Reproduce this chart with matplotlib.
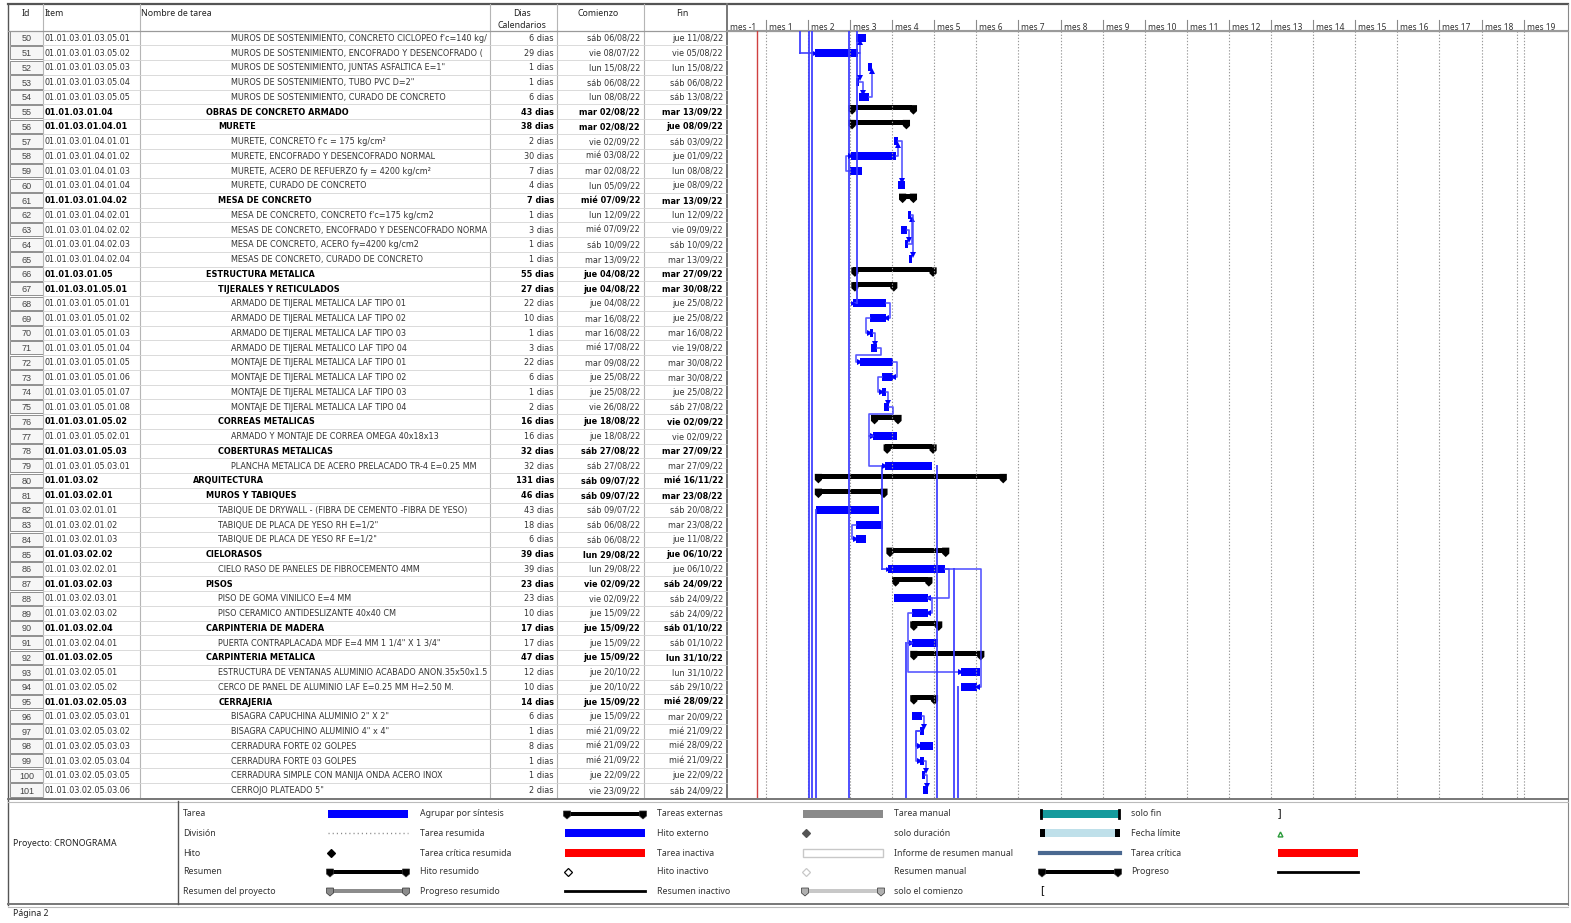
import matplotlib
matplotlib.use('Agg')
import matplotlib.pyplot as plt
from matplotlib import font_manager
from matplotlib.patches import Rectangle, Polygon
from datetime import date, datetime, timedelta

# ---------------- datos del cronograma (página 2) ----------------
ids = list(range(50, 102))
items = [
    '01.01.03.01.03.05.01', '01.01.03.01.03.05.02', '01.01.03.01.03.05.03',
    '01.01.03.01.03.05.04', '01.01.03.01.03.05.05',
    '01.01.03.01.04', '01.01.03.01.04.01', '01.01.03.01.04.01.01',
    '01.01.03.01.04.01.02', '01.01.03.01.04.01.03', '01.01.03.01.04.01.04',
    '01.01.03.01.04.02', '01.01.03.01.04.02.01', '01.01.03.01.04.02.02',
    '01.01.03.01.04.02.03', '01.01.03.01.04.02.04',
    '01.01.03.01.05', '01.01.03.01.05.01', '01.01.03.01.05.01.01',
    '01.01.03.01.05.01.02', '01.01.03.01.05.01.03', '01.01.03.01.05.01.04',
    '01.01.03.01.05.01.05', '01.01.03.01.05.01.06', '01.01.03.01.05.01.07',
    '01.01.03.01.05.01.08', '01.01.03.01.05.02', '01.01.03.01.05.02.01',
    '01.01.03.01.05.03', '01.01.03.01.05.03.01',
    '01.01.03.02', '01.01.03.02.01', '01.01.03.02.01.01', '01.01.03.02.01.02',
    '01.01.03.02.01.03', '01.01.03.02.02', '01.01.03.02.02.01',
    '01.01.03.02.03', '01.01.03.02.03.01', '01.01.03.02.03.02',
    '01.01.03.02.04', '01.01.03.02.04.01', '01.01.03.02.05',
    '01.01.03.02.05.01', '01.01.03.02.05.02', '01.01.03.02.05.03',
    '01.01.03.02.05.03.01', '01.01.03.02.05.03.02', '01.01.03.02.05.03.03',
    '01.01.03.02.05.03.04', '01.01.03.02.05.03.05', '01.01.03.02.05.03.06',
]
nombres = [
    "MUROS DE SOSTENIMIENTO, CONCRETO CICLOPEO f'c=140 kg/cm2",
    "MUROS DE SOSTENIMIENTO, ENCOFRADO Y DESENCOFRADO (NORMAL)",
    'MUROS DE SOSTENIMIENTO, JUNTAS ASFALTICA E=1"',
    'MUROS DE SOSTENIMIENTO, TUBO PVC D=2"',
    'MUROS DE SOSTENIMIENTO, CURADO DE CONCRETO',
    'OBRAS DE CONCRETO ARMADO',
    'MURETE',
    "MURETE, CONCRETO f'c = 175 kg/cm²",
    'MURETE, ENCOFRADO Y DESENCOFRADO NORMAL',
    'MURETE, ACERO DE REFUERZO fy = 4200 kg/cm²',
    'MURETE, CURADO DE CONCRETO',
    'MESA DE CONCRETO',
    "MESA DE CONCRETO, CONCRETO f'c=175 kg/cm2",
    'MESAS DE CONCRETO, ENCOFRADO Y DESENCOFRADO NORMAL',
    'MESA DE CONCRETO, ACERO fy=4200 kg/cm2',
    'MESAS DE CONCRETO, CURADO DE CONCRETO',
    'ESTRUCTURA METALICA',
    'TIJERALES Y RETICULADOS',
    'ARMADO DE TIJERAL METALICA LAF TIPO 01',
    'ARMADO DE TIJERAL METALICA LAF TIPO 02',
    'ARMADO DE TIJERAL METALICA LAF TIPO 03',
    'ARMADO DE TIJERAL METALICO LAF TIPO 04',
    'MONTAJE DE TIJERAL METALICA LAF TIPO 01',
    'MONTAJE DE TIJERAL METALICA LAF TIPO 02',
    'MONTAJE DE TIJERAL METALICA LAF TIPO 03',
    'MONTAJE DE TIJERAL METALICA LAF TIPO 04',
    'CORREAS METALICAS',
    'ARMADO Y MONTAJE DE CORREA OMEGA 40x18x13',
    'COBERTURAS METALICAS',
    'PLANCHA METALICA DE ACERO PRELACADO TR-4 E=0.25 MM',
    'ARQUITECTURA',
    'MUROS Y TABIQUES',
    'TABIQUE DE DRYWALL - (FIBRA DE CEMENTO -FIBRA DE YESO)',
    'TABIQUE DE PLACA DE YESO RH E=1/2"',
    'TABIQUE DE PLACA DE YESO RF E=1/2"',
    'CIELORASOS',
    'CIELO RASO DE PANELES DE FIBROCEMENTO 4MM',
    'PISOS',
    'PISO DE GOMA VINILICO E=4 MM',
    'PISO CERAMICO ANTIDESLIZANTE 40x40 CM',
    'CARPINTERIA DE MADERA',
    'PUERTA CONTRAPLACADA MDF E=4 MM 1 1/4" X 1 3/4"',
    'CARPINTERIA METALICA',
    'ESTRUCTURA DE VENTANAS ALUMINIO ACABADO ANON.35x50x1.5',
    'CERCO DE PANEL DE ALUMINIO LAF E=0.25 MM H=2.50 M.',
    'CERRAJERIA',
    'BISAGRA CAPUCHINA ALUMINIO 2" X 2"',
    'BISAGRA CAPUCHINO ALUMINIO 4" x 4"',
    'CERRADURA FORTE 02 GOLPES',
    'CERRADURA FORTE 03 GOLPES',
    'CERRADURA SIMPLE CON MANIJA ONDA ACERO INOX',
    'CERROJO PLATEADO 5"',
]
duraciones = [6, 29, 1, 1, 6, 43, 38, 2, 30, 7, 4, 7, 1, 3, 1, 1, 55, 27, 22, 10,
              1, 3, 22, 6, 1, 2, 16, 16, 32, 32, 131, 46, 43, 18, 6, 39, 39, 23,
              23, 10, 17, 17, 47, 12, 10, 14, 6, 1, 8, 1, 1, 2]
comienzos = [
    'sáb 06/08/22', 'vie 08/07/22', 'lun 15/08/22', 'sáb 06/08/22', 'lun 08/08/22',
    'mar 02/08/22', 'mar 02/08/22', 'vie 02/09/22', 'mié 03/08/22', 'mar 02/08/22',
    'lun 05/09/22', 'mié 07/09/22', 'lun 12/09/22', 'mié 07/09/22', 'sáb 10/09/22',
    'mar 13/09/22', 'jue 04/08/22', 'jue 04/08/22', 'jue 04/08/22', 'mar 16/08/22',
    'mar 16/08/22', 'mié 17/08/22', 'mar 09/08/22', 'jue 25/08/22', 'jue 25/08/22',
    'vie 26/08/22', 'jue 18/08/22', 'jue 18/08/22', 'sáb 27/08/22', 'sáb 27/08/22',
    'sáb 09/07/22', 'sáb 09/07/22', 'sáb 09/07/22', 'sáb 06/08/22', 'sáb 06/08/22',
    'lun 29/08/22', 'lun 29/08/22', 'vie 02/09/22', 'vie 02/09/22', 'jue 15/09/22',
    'jue 15/09/22', 'jue 15/09/22', 'jue 15/09/22', 'jue 20/10/22', 'jue 20/10/22',
    'jue 15/09/22', 'jue 15/09/22', 'mié 21/09/22', 'mié 21/09/22', 'mié 21/09/22',
    'jue 22/09/22', 'vie 23/09/22',
]
fines = [
    'jue 11/08/22', 'vie 05/08/22', 'lun 15/08/22', 'sáb 06/08/22', 'sáb 13/08/22',
    'mar 13/09/22', 'jue 08/09/22', 'sáb 03/09/22', 'jue 01/09/22', 'lun 08/08/22',
    'jue 08/09/22', 'mar 13/09/22', 'lun 12/09/22', 'vie 09/09/22', 'sáb 10/09/22',
    'mar 13/09/22', 'mar 27/09/22', 'mar 30/08/22', 'jue 25/08/22', 'jue 25/08/22',
    'mar 16/08/22', 'vie 19/08/22', 'mar 30/08/22', 'mar 30/08/22', 'jue 25/08/22',
    'sáb 27/08/22', 'vie 02/09/22', 'vie 02/09/22', 'mar 27/09/22', 'mar 27/09/22',
    'mié 16/11/22', 'mar 23/08/22', 'sáb 20/08/22', 'mar 23/08/22', 'jue 11/08/22',
    'jue 06/10/22', 'jue 06/10/22', 'sáb 24/09/22', 'sáb 24/09/22', 'sáb 24/09/22',
    'sáb 01/10/22', 'sáb 01/10/22', 'lun 31/10/22', 'lun 31/10/22', 'sáb 29/10/22',
    'mié 28/09/22', 'mar 20/09/22', 'mié 21/09/22', 'mié 28/09/22', 'mié 21/09/22',
    'jue 22/09/22', 'sáb 24/09/22',
]
resumenes = [55, 56, 61, 66, 67, 76, 78, 80, 81, 85, 87, 90, 92, 95]

# vinculos entre tareas: (predecesora, sucesora, tipo)
vinculos = [
    (51, 50, 'FC'), (51, 53, 'FC'), (53, 54, 'FC'), (54, 52, 'FC'),
    (59, 58, 'CC'), (58, 57, 'FC'), (57, 60, 'FC'),
    (63, 64, 'FC'), (64, 62, 'FC'), (62, 65, 'FC'),
    (68, 69, 'FF'), (69, 70, 'CC'), (70, 71, 'FC'), (71, 72, 'FC'),
    (72, 73, 'FF'), (73, 74, 'CC'), (74, 75, 'FC'), (75, 77, 'FC'),
    (77, 79, 'CC'), (83, 84, 'CC'), (86, 88, 'FF'), (88, 89, 'FF'),
    (89, 91, 'CC'), (91, 93, 'CC'), (86, 94, 'FF'),
    (96, 97, 'FC'), (97, 98, 'CC'), (97, 99, 'CC'), (99, 100, 'FC'), (100, 101, 'FC'),
]
# vinculos con tareas de otras paginas (tramos verticales)
ext_fechas = ['2022-06-27', '2022-07-04', '2022-07-06', '2022-07-09', '2022-08-01',
              '2022-08-07', '2022-08-25', '2022-09-11', '2022-10-03', '2022-10-15',
              '2022-10-18']
ext_desde = [49, 49, 49, 82, 49, 49, 79, 91, 79, 86, 94]
ext_hasta = [51, 102, 102, 102, 102, 68, 86, 102, 102, 102, 102]

inicio_proyecto = date(2022, 6, 3)
meses = [-1] + list(range(1, 20))
dias_por_mes = 30
fecha_estado = date(2022, 5, 28)
fecha_fin_linea = date(2023, 11, 20)

# ---------------- utilidades ----------------
def a_fecha(txt):
    return datetime.strptime(txt.split()[-1], '%d/%m/%y').date()

def nivel(item):
    return len(item.split('.'))

N = len(ids)
FILA_PX = 14.75
Y0 = 30.5
PX_DIA = 42.1 / dias_por_mes
GX0, GX1 = 727, 1568
ref = date(2022, 7, 8).toordinal()
x_izq = ref - (815 - GX0) / PX_DIA
x_der = x_izq + (GX1 - GX0) / PX_DIA

def dpx(px):
    return px / PX_DIA

def rpx(px):
    return px / FILA_PX

AZUL = '#0000ff'
AZUL_LINK = '#3c3cff'
UI = ['Noto Sans', 'DejaVu Sans']

# fuente estrecha para la tabla (la que haya instalada)
lista = font_manager.fontManager.ttflist
disponibles = {f.name for f in lista}
estrechos = ('condensed', 'semi-condensed', 'extra-condensed', 'ultra-condensed')
NARROW = dict(family=['Liberation Sans', 'DejaVu Sans'])
if 'Liberation Sans Narrow' in disponibles:
    NARROW = dict(family=['Liberation Sans Narrow', 'DejaVu Sans'])
else:
    for fam in ['Liberation Sans', 'DejaVu Sans', 'Noto Sans', 'Open Sans', 'Roboto']:
        if any(f.name == fam and str(f.stretch) in estrechos for f in lista):
            NARROW = dict(family=[fam, 'DejaVu Sans'], stretch='condensed')
            break

fig = plt.figure(figsize=(15.71, 9.23), dpi=100)
bg = fig.add_axes([0, 0, 1, 1])
bg.set_xlim(0, 1571)
bg.set_ylim(923, 0)
bg.axis('off')
rend = fig.canvas.get_renderer()

def ancho(txt, size, peso='normal'):
    t = bg.text(0, 0, txt, fontsize=size, weight=peso, **NARROW)
    w = t.get_window_extent(rend).width
    t.remove()
    return w

# tamaño de letra ajustado al ancho de las columnas
T_TAB = 10 * 218 / ancho('MUROS DE SOSTENIMIENTO, CURADO DE CONCRETO', 10)

# ---------------- marco y tabla ----------------
bg.plot([8, 1568], [4, 4], color='#555555', lw=1.6)
bg.plot([8, 8], [4, 905], color='#555555', lw=1.0)
bg.plot([1568, 1568], [4, 905], color='#888888', lw=0.8)
y_fin_tabla = Y0 + N * FILA_PX
cols = [43, 140, 490, 557, 644]
for cx in cols:
    bg.plot([cx, cx], [4, y_fin_tabla], color='#b5b5b5', lw=0.8)
bg.plot([GX0, GX0], [4, y_fin_tabla], color='#777777', lw=1.4)
bg.plot([8, GX1], [Y0, Y0], color='#9a9a9a', lw=0.9)

enc = dict(fontsize=6.3, family=UI, color='#222222', va='center')
bg.text(26, 14, 'Id', ha='center', **enc)
bg.text(45, 14, 'Item', ha='left', **enc)
bg.text(141, 14, 'Nombre de tarea', ha='left', **enc)
bg.text(522, 14, 'Dias', ha='center', **enc)
bg.text(522, 26, 'Calendarios', ha='center', **enc)
bg.text(598, 14, 'Comienzo', ha='center', **enc)
bg.text(682, 14, 'Fin', ha='center', **enc)

for i in range(N):
    top = Y0 + i * FILA_PX
    yc = top + FILA_PX / 2 + 0.5
    bg.add_patch(Rectangle((10, top + 0.6), 33, FILA_PX - 1.2, facecolor='#f6f6f6',
                           edgecolor='#8f8f8f', lw=0.7))
    bg.plot([43, GX0], [top + FILA_PX, top + FILA_PX], color='#d4d4d4', lw=0.6)
    es_res = ids[i] in resumenes
    peso = 'bold' if es_res else 'normal'
    col = '#000000' if es_res else '#333333'
    bg.text(26.5, yc + 0.5, str(ids[i]), ha='center', va='center', fontsize=6.5,
            family=['Liberation Sans', 'DejaVu Sans'], color='#444444')
    kw = dict(fontsize=T_TAB, color=col, weight=peso, va='center', **NARROW)
    bg.text(45, yc, items[i], ha='left', **kw)
    xn = 193 + (nivel(items[i]) - 4) * 12.7
    nombre = nombres[i]
    while ancho(nombre, T_TAB, peso) > 488 - xn:
        nombre = nombre[:-1]
    bg.text(xn, yc, nombre, ha='left', **kw)
    bg.text(554, yc, f'{duraciones[i]} dias', ha='right', **kw)
    bg.text(640, yc, comienzos[i], ha='right', **kw)
    bg.text(723, yc, fines[i], ha='right', **kw)

# ---------------- escala de tiempo ----------------
hdr = fig.add_axes([GX0 / 1571, 1 - Y0 / 923, (GX1 - GX0) / 1571, (Y0 - 4) / 923])
hdr.set_xlim(x_izq, x_der)
hdr.set_ylim(1, 0)
hdr.axis('off')
inicios_mes = []
for m in meses:
    k = m if m < 0 else m - 1
    xm = (inicio_proyecto + timedelta(days=k * dias_por_mes)).toordinal()
    inicios_mes.append(xm)
    hdr.plot([xm, xm], [0.62, 1.0], color='#8a8a8a', lw=0.8, clip_on=True)
    hdr.text(max(xm, x_izq) + dpx(3), 0.88, f'mes {m}', fontsize=6.0, family=UI,
             color='#333333', va='center', ha='left')
hdr.plot([x_izq, x_der], [0.98, 0.98], color='#9a9a9a', lw=0.8)

# ---------------- diagrama de Gantt ----------------
ax = fig.add_axes([GX0 / 1571, 1 - y_fin_tabla / 923, (GX1 - GX0) / 1571,
                   (y_fin_tabla - Y0) / 923])
ax.set_xlim(x_izq, x_der)
ax.set_ylim(N, 0)
ax.axis('off')

for xm in inicios_mes[1:] + [fecha_fin_linea.toordinal()]:
    ax.plot([xm, xm], [0, N], color='#9a9a9a', lw=0.8, ls=(0, (1.2, 1.6)))
ax.axvline(fecha_estado.toordinal(), color='#d04040', lw=1.0)

ini = {t: a_fecha(c).toordinal() for t, c in zip(ids, comienzos)}
fin = {t: a_fecha(f).toordinal() + 1 + dpx(2) for t, f in zip(ids, fines)}
fila = {t: i for i, t in enumerate(ids)}

def yc_de(t):
    return fila[t] + 0.5

MEDIA = rpx(4)
g = dpx(4)

# tramos verticales hacia otras paginas
for f, d, h in zip(ext_fechas, ext_desde, ext_hasta):
    xf = date.fromisoformat(f).toordinal()
    y_a = 0 if d < ids[0] else yc_de(d)
    y_b = N if h > ids[-1] else yc_de(h)
    ax.plot([xf, xf], [y_a, y_b], color=AZUL_LINK, lw=1.4, alpha=0.9)
    if h <= ids[-1]:
        ax.plot([xf, ini[h]], [y_b, y_b], color=AZUL_LINK, lw=1.3, alpha=0.9)
        ax.plot(ini[h], y_b, marker='>', ms=3.5, color=AZUL, mew=0)

# lineas de vinculo
for a, b, tipo in vinculos:
    ya, yb = yc_de(a), yc_de(b)
    abajo = yb > ya
    if tipo == 'FC':
        xa, xb = fin[a], ini[b]
        if xb + g >= xa:
            xs = [xa, xb + g, xb + g]
            ys = [ya, ya, yb - MEDIA if abajo else yb + MEDIA]
            mk = 'v' if abajo else '^'
        else:
            ym = fila[a] + 1.0
            xs = [xa, xa + g, xa + g, xb - g, xb - g, xb]
            ys = [ya, ya, ym, ym, yb, yb]
            mk = '>'
    elif tipo == 'CC':
        xa, xb = ini[a], ini[b]
        xl = min(xa, xb) - g
        xs = [xa, xl, xl, xb]
        ys = [ya, ya, yb, yb]
        mk = '>'
    else:
        xa, xb = fin[a], fin[b]
        xr = max(xa, xb) + g
        xs = [xa, xr, xr, xb]
        ys = [ya, ya, yb, yb]
        mk = '<'
    ax.plot(xs, ys, color=AZUL_LINK, lw=1.2, alpha=0.85)
    ax.plot(xs[-1], ys[-1], marker=mk, ms=4.5, color=AZUL, mew=0)

def barra_resumen(axx, x0, x1, yc, color='black', alto_px=5):
    top = yc - rpx(6.5)
    bot = top + rpx(alto_px)
    axx.add_patch(Rectangle((x0, top), x1 - x0, bot - top, facecolor=color,
                            edgecolor='none'))
    hw = dpx(3.6)
    for xc in (x0 + dpx(2), x1 + dpx(1)):
        pts = [(xc - hw, top), (xc + hw, top), (xc + hw, bot + rpx(1)),
               (xc, bot + rpx(4.5)), (xc - hw, bot + rpx(1))]
        axx.add_patch(Polygon(pts, closed=True, facecolor=color, edgecolor='none'))

for t in ids:
    y = yc_de(t)
    if t in resumenes:
        barra_resumen(ax, ini[t], fin[t], y)
    else:
        ax.add_patch(Rectangle((ini[t], y - MEDIA), fin[t] - ini[t], 2 * MEDIA,
                               facecolor=AZUL, edgecolor='none'))

# ---------------- leyenda ----------------
bg.plot([8, 1568], [799, 799], color='#777777', lw=1.4)
bg.plot([8, 1568], [801.5, 801.5], color='#bbbbbb', lw=0.8)
bg.plot([8, 1568], [904, 904], color='#777777', lw=1.4)
bg.plot([8, 1568], [906.5, 906.5], color='#bbbbbb', lw=0.8)
bg.plot([178, 178], [801, 904], color='#555555', lw=1.0)
bg.text(13, 844, 'Proyecto: CRONOGRAMA', fontsize=6.3, family=UI, color='#222222',
        va='center')
bg.text(13, 914, 'Página 2', fontsize=6.3, family=UI, color='#222222', va='center')

filas_ley = [814, 833, 853, 872, 891]
etiquetas = [
    ['Tarea', 'División', 'Hito', 'Resumen', 'Resumen del proyecto'],
    ['Agrupar por síntesis', 'Tarea resumida', 'Tarea crítica resumida',
     'Hito resumido', 'Progreso resumido'],
    ['Tareas externas', 'Hito externo', 'Tarea inactiva', 'Hito inactivo',
     'Resumen inactivo'],
    ['Tarea manual', 'solo duración', 'Informe de resumen manual', 'Resumen manual',
     'solo el comienzo'],
    ['solo fin', 'Fecha límite', 'Tarea crítica', 'Progreso'],
]
x_etq = [183, 420, 657, 894, 1131]
x_sim = [328, 565, 803, 1040, 1278]

def ley_barra(x, y, color, borde='none', lw=0.0):
    bg.add_patch(Rectangle((x, y - 4), 80, 8, facecolor=color, edgecolor=borde, lw=lw))

def ley_resumen(x, y, color, cap):
    bg.add_patch(Rectangle((x, y - 2.5), 80, 4, facecolor=color, edgecolor='none'))
    for xc in (x + 2, x + 78):
        bg.add_patch(Polygon([(xc - 3.5, y - 3), (xc + 3.5, y - 3), (xc + 3.5, y + 2),
                              (xc, y + 5), (xc - 3.5, y + 2)], closed=True,
                             facecolor=cap, edgecolor='#333333', lw=0.5))

def ley_rombo(x, y, cara, borde):
    bg.plot(x, y, marker='D', ms=4.2, mfc=cara, mec=borde, mew=0.9)

for c, col in enumerate(etiquetas):
    for r, txt in enumerate(col):
        bg.text(x_etq[c], filas_ley[r], txt, fontsize=6.3, family=UI, color='#333333',
                va='center')

xs0, xs1, xs2, xs3, xs4 = x_sim
y1, y2, y3, y4, y5 = filas_ley
ley_barra(xs0, y1, AZUL)
bg.plot([xs0, xs0 + 80], [y2, y2], color='#888888', lw=1.0, ls=(0, (0.8, 2.2)))
ley_rombo(xs0 + 3, y3, 'black', 'black')
ley_resumen(xs0, y4, 'black', 'black')
ley_resumen(xs0, y5, '#8c8c8c', '#8c8c8c')

ley_resumen(xs1, y1, 'black', 'black')
ley_barra(xs1, y2, AZUL)
ley_barra(xs1, y3, '#ff0000')
ley_rombo(xs1 + 3, y4, 'white', 'black')
bg.plot([xs1, xs1 + 80], [y5, y5], color='black', lw=2.0)

ley_barra(xs2, y1, '#8a8a8a')
ley_rombo(xs2 + 3, y2, '#555555', '#555555')
ley_barra(xs2, y3, 'white', '#c8c8c8', 1.0)
ley_rombo(xs2 + 3, y4, 'white', '#c8c8c8')
ley_resumen(xs2, y5, '#c8c8c8', '#b0b0b0')

ley_barra(xs3, y1, '#159a9c')
bg.plot([xs3 + 1, xs3 + 1], [y1 - 4, y1 + 4], color='black', lw=2)
bg.plot([xs3 + 79, xs3 + 79], [y1 - 4, y1 + 4], color='black', lw=2)
ley_barra(xs3, y2, '#bfe0ea')
bg.add_patch(Rectangle((xs3, y2 - 4), 5, 8, facecolor='black'))
bg.add_patch(Rectangle((xs3 + 75, y2 - 4), 5, 8, facecolor='black'))
bg.plot([xs3, xs3 + 80], [y3, y3], color='#4a6890', lw=3.0)
ley_resumen(xs3, y4, 'black', 'black')
bg.text(xs3, y5, '[', fontsize=7.5, weight='bold', family=UI, va='center')

bg.text(xs4, y1, ']', fontsize=7.5, weight='bold', family=UI, va='center')
bg.plot(xs4 + 2, y2 + 1, marker='^', ms=3.5, mfc='none', mec='#2a9a3a', mew=1.0)
ley_barra(xs4, y3, '#ff0000')
bg.plot([xs4, xs4 + 80], [y4, y4], color='black', lw=2.0)

fig.savefig('out.png', dpi=100)
